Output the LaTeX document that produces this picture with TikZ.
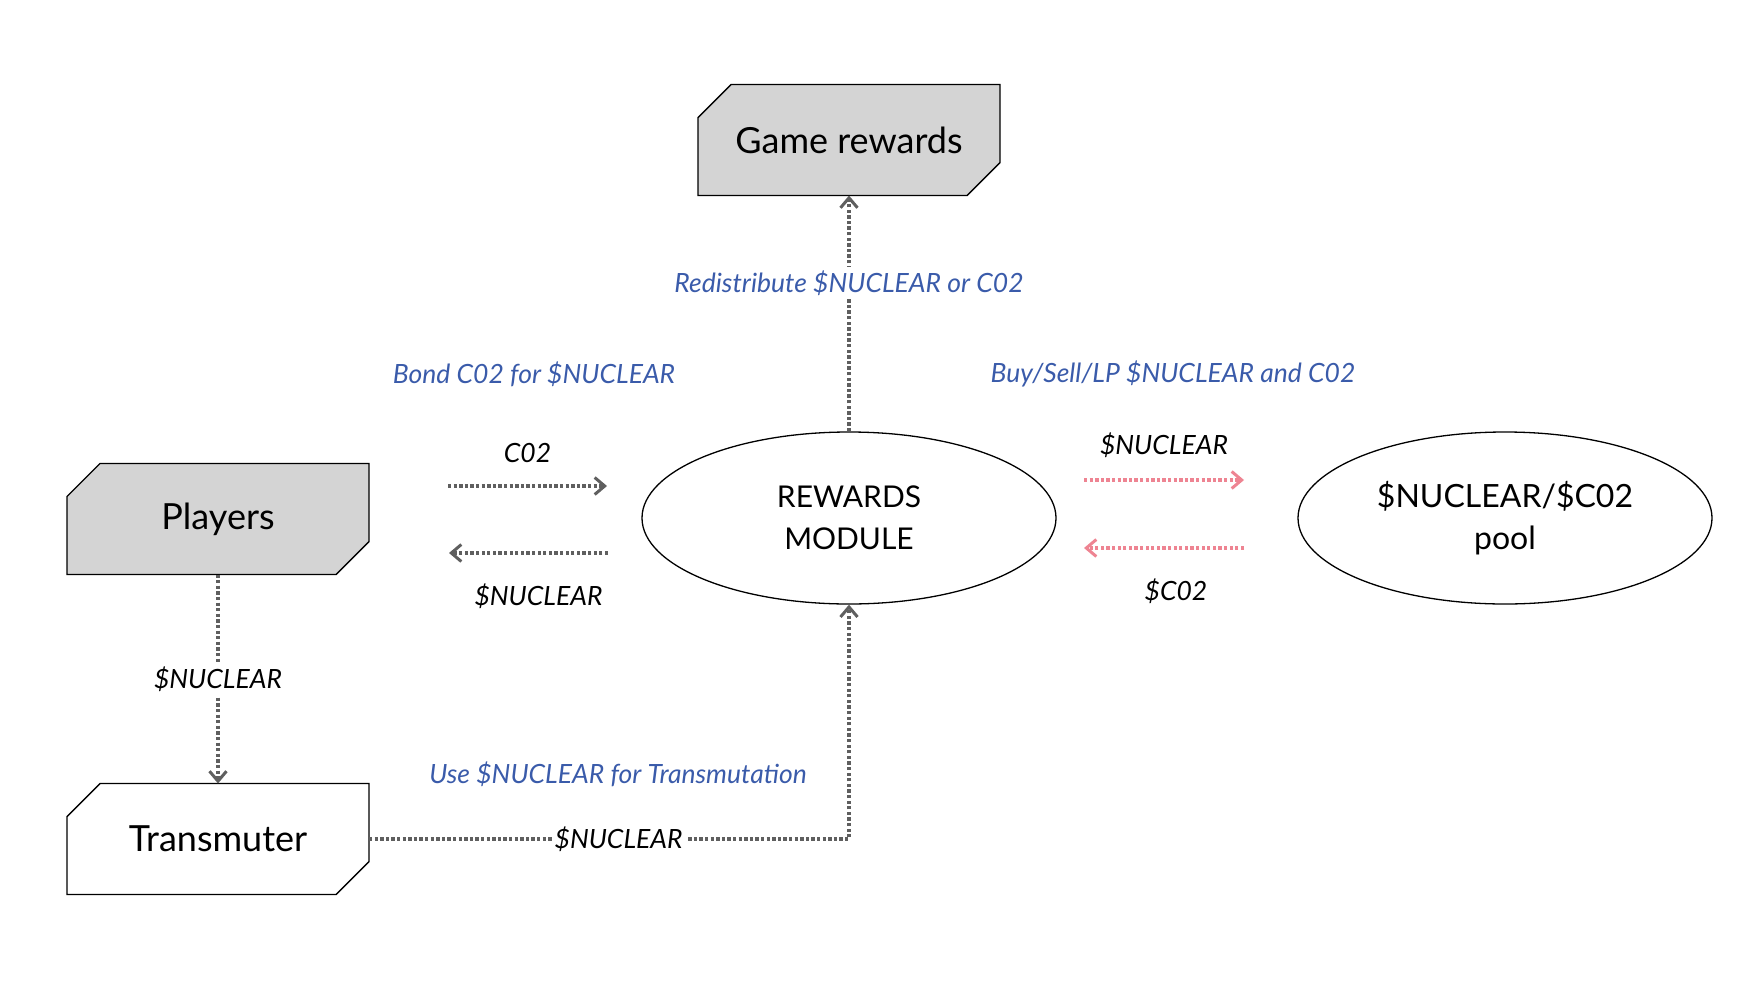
\documentclass[tikz,border=0pt]{standalone}
\usepackage{fontspec}
\setmainfont{Lato}
\usetikzlibrary{positioning,arrows.meta,shapes.geometric}
\definecolor{flowgray}{HTML}{5F5F5F}
\definecolor{noteblue}{HTML}{3A5BAA}
\definecolor{swappink}{HTML}{EE8492}
\definecolor{actorgray}{HTML}{D4D4D4}
\tikzset{>={Straight Barb[length=10pt,width=17pt,line width=3pt]}}
\pgfdeclarelayer{bg}
\pgfsetlayers{bg,main}

\begin{document}
\begin{tikzpicture}[x=1pt,y=-1pt,
    actor/.style={rectangle, outer sep=0pt,
      minimum width=302pt, minimum height=111pt,
      font=\fontsize{36}{42}\selectfont},
    outline/.style={draw, line width=1.4pt},
    module/.style={draw, ellipse, line width=1.3pt,
      minimum width=414pt, minimum height=172pt,
      align=center, font=\fontsize{30}{42}\selectfont},
    flow/.style={->, flowgray, line width=3.2pt, dash pattern=on 3.3pt off 2.3pt},
    swap/.style={flow, swappink},
    note/.style={noteblue, font=\itshape\fontsize{26.5}{30}\selectfont},
    tag/.style={text=black, font=\itshape\fontsize{26.5}{30}\selectfont}
  ]
  \useasboundingbox (0,0) rectangle (1743,980);

  \node [actor] (game) at (849,140) {Game rewards};
  \node [actor] (players) at (218,519) {Players};
  \node [actor] (transmuter) at (218,839) {Transmuter};

  % cut corner outlines behind the text
  \begin{pgfonlayer}{bg}
    \foreach \n/\c in {game/actorgray,players/actorgray,transmuter/white}
      \draw[outline, fill=\c] ([yshift=-33pt]\n.north west) -- ([xshift=33pt]\n.north west)
        -- (\n.north east) -- ([yshift=33pt]\n.south east)
        -- ([xshift=-33pt]\n.south east) -- (\n.south west) -- cycle;
  \end{pgfonlayer}

  \node [module] (rewards) at (849,518) {REWARDS\\MODULE};
  \node [module, font=\fontsize{32}{42}\selectfont] (pool) at (1505,518) {\$NUCLEAR/\$C02\\pool};

  \node [note] (bond) at (534,374) {Bond C02 for \$NUCLEAR};
  \node [note] (trade) at (1173,374) {Buy/Sell/LP \$NUCLEAR and C02};
  \node [note] (use) at (618,774) {Use \$NUCLEAR for Transmutation};

  \coordinate (bondout) at (448,486);
  \coordinate (bondin) at (607,486);
  \coordinate (payout) at (608,553);
  \coordinate (payin) at (449,553);
  \coordinate (buyout) at (1084,480);
  \coordinate (buyin) at (1244,480);
  \coordinate (sellout) at (1244,548);
  \coordinate (sellin) at (1084,548);

  \draw[flow] (rewards.north) -- node[note, fill=white, pos=0.63] {Redistribute \$NUCLEAR or C02} (game.south);
  \draw[flow] (bondout) -- node[tag, above=18pt] {C02} (bondin);
  \draw[flow] (payout) -- node[tag, below=26pt, xshift=10pt] {\$NUCLEAR} (payin);
  \draw[swap] (buyout) -- node[tag, above=17pt] {\$NUCLEAR} (buyin);
  \draw[swap] (sellout) -- node[tag, below=26pt, xshift=12pt] {\$C02} (sellin);
  \draw[flow] (players.south) -- node[tag, fill=white] {\$NUCLEAR} (transmuter.north);
  \draw[flow] (transmuter.east) -| node[tag, fill=white, inner sep=3pt, pos=0.26] {\$NUCLEAR} (rewards.south);
\end{tikzpicture}
\end{document}
